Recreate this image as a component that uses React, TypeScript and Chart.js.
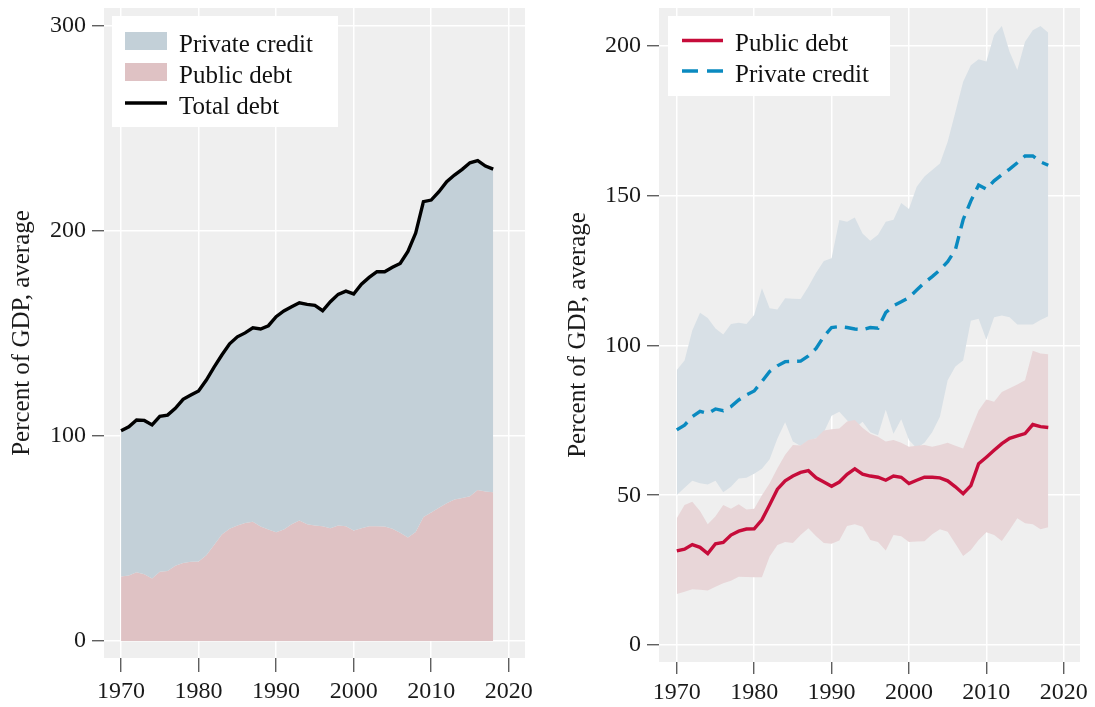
import { useEffect, useRef } from "react";
import { Chart, registerables } from "chart.js";

Chart.register(...registerables);

const years = [
  1970, 1971, 1972, 1973, 1974, 1975, 1976, 1977, 1978, 1979,
  1980, 1981, 1982, 1983, 1984, 1985, 1986, 1987, 1988, 1989,
  1990, 1991, 1992, 1993, 1994, 1995, 1996, 1997, 1998, 1999,
  2000, 2001, 2002, 2003, 2004, 2005, 2006, 2007, 2008, 2009,
  2010, 2011, 2012, 2013, 2014, 2015, 2016, 2017, 2018,
];

const totalDebt = [
  102.6, 104.5, 107.8, 107.6, 105.4, 109.6, 110.2, 113.5, 117.9, 120.0,
  122.0, 127.3, 133.6, 139.5, 145.0, 148.4, 150.3, 152.8, 152.2, 153.8,
  158.2, 161.0, 163.0, 165.0, 164.2, 163.7, 161.1, 165.5, 169.1, 170.7,
  169.3, 174.1, 177.4, 180.2, 180.1, 182.3, 184.2, 190.0, 199.0, 214.3,
  215.1, 219.2, 224.1, 227.3, 230.1, 233.3, 234.3, 231.7, 230.2,
];

const publicDebt = [
  31.4, 32.0, 33.5, 32.6, 30.5, 33.8, 34.2, 36.7, 38.0, 38.7,
  38.8, 41.8, 46.8, 52.0, 54.8, 56.4, 57.6, 58.2, 55.8, 54.4,
  53.0, 54.4, 57.0, 58.8, 57.0, 56.4, 56.0, 55.0, 56.4, 56.0,
  53.9, 55.0, 56.0, 56.0, 55.8, 54.8, 52.8, 50.5, 53.2, 60.5,
  62.7, 65.0, 67.2, 69.0, 69.8, 70.6, 73.6, 72.9, 72.6,
];

const privateCredit = [
  71.8, 73.4, 76.2, 78.0, 77.3, 78.8, 78.2, 79.6, 81.8, 83.5,
  84.8, 88.0, 91.3, 93.2, 94.6, 94.7, 94.8, 96.5, 99.0, 103.0,
  106.0, 106.3, 106.0, 105.5, 105.3, 106.0, 105.8, 111.0, 113.3, 114.6,
  116.0, 118.5, 121.0, 123.0, 125.2, 128.0, 132.0, 142.0, 148.3, 153.6,
  152.2, 155.0, 157.0, 158.9, 161.0, 163.3, 163.3, 161.3, 160.2,
];

const privateUpper = [
  91.8, 95.0, 105.0, 110.9, 109.2, 105.7, 103.7, 107.2, 107.6, 107.2,
  110.2, 119.1, 112.4, 112.0, 115.8, 115.6, 115.5, 119.6, 124.3, 128.2,
  129.1, 141.9, 141.3, 142.7, 137.4, 135.0, 137.0, 141.3, 142.0, 147.6,
  145.6, 153.0, 156.4, 158.6, 160.8, 168.0, 178.0, 188.1, 193.6, 195.6,
  194.8, 203.7, 206.7, 198.1, 192.0, 201.4, 205.3, 206.7, 204.4,
];

const privateLower = [
  50.1, 52.5, 54.8, 54.0, 53.6, 54.8, 51.0, 52.8, 55.6, 55.8,
  57.2, 58.8, 62.0, 68.9, 74.4, 67.9, 66.4, 68.3, 69.0, 71.0,
  76.5, 77.9, 75.0, 72.3, 74.5, 71.0, 70.0, 78.5, 70.5, 75.4,
  68.4, 65.7, 67.5, 71.0, 76.2, 88.4, 93.0, 95.0, 108.3, 108.9,
  101.9, 109.4, 110.0, 109.4, 107.0, 107.0, 107.0, 108.5, 109.8,
];

const publicUpper = [
  42.3, 46.7, 47.8, 44.7, 40.3, 43.0, 46.7, 45.5, 47.0, 45.2,
  45.5, 50.0, 54.0, 59.0, 63.5, 66.8, 66.6, 68.4, 69.0, 71.6,
  72.0, 72.3, 74.6, 75.1, 72.5, 70.5, 69.5, 67.9, 68.4, 67.5,
  66.2, 66.5, 66.8, 66.2, 66.8, 67.5, 66.5, 65.6, 72.0, 78.3,
  82.0, 81.2, 84.5, 85.7, 87.0, 88.4, 98.2, 97.3, 97.1,
];

const publicLower = [
  17.0, 17.8, 18.6, 18.4, 18.2, 19.4, 20.6, 21.4, 22.8, 22.7,
  22.6, 22.6, 29.5, 33.4, 34.4, 34.0, 36.7, 39.0, 36.3, 34.0,
  33.8, 34.9, 39.7, 40.3, 39.5, 35.0, 34.4, 31.5, 36.7, 36.3,
  34.4, 34.5, 34.6, 37.0, 38.6, 37.8, 33.8, 29.7, 31.7, 35.0,
  37.6, 36.7, 34.7, 38.4, 42.3, 40.6, 40.3, 38.6, 39.3,
];

const xTicks = [1970, 1980, 1990, 2000, 2010, 2020];
const leftYTicks = [0, 100, 200, 300];
const rightYTicks = [0, 50, 100, 150, 200];
const yTitle = "Percent of GDP, average";
const leftLegendLabels = ["Private credit", "Public debt", "Total debt"];
const rightLegendLabels = ["Public debt", "Private credit"];

const FONT = '"Liberation Serif", "Times New Roman", serif';
const FS = 24;
const LFS = 25;
const PANEL = "#efefef";
const C_PRIV_AREA = "#c3d0d8";
const C_PUB_AREA = "#dfc2c4";
const C_PRIV_BAND = "#d8e0e6";
const C_PUB_BAND = "#e8d6d8";
const C_RED = "#c60c3a";
const C_BLUE = "#0a8ac0";

const pts = (vals: number[]) => years.map((yr, i) => ({ x: yr, y: vals[i] }));

const panelBg = {
  id: "panelBg",
  beforeDraw(chart: any) {
    const { ctx, chartArea: a } = chart;
    ctx.save();
    ctx.fillStyle = PANEL;
    ctx.fillRect(a.left, a.top, a.right - a.left, a.bottom - a.top);
    ctx.restore();
  },
};

type LegendItem = { label: string; kind: "box" | "line" | "dash"; color: string; y: number };

function legendPlugin(box: { x: number; y: number; w: number; h: number }, keyX: number, keyW: number, textX: number, items: LegendItem[]) {
  return {
    id: "customLegend",
    afterDraw(chart: any) {
      const ctx = chart.ctx;
      ctx.save();
      ctx.fillStyle = "#ffffff";
      ctx.fillRect(box.x, box.y, box.w, box.h);
      for (const it of items) {
        if (it.kind === "box") {
          ctx.fillStyle = it.color;
          ctx.fillRect(keyX, it.y - 9, keyW, 18);
        } else {
          ctx.strokeStyle = it.color;
          ctx.lineWidth = 3.4;
          ctx.setLineDash(it.kind === "dash" ? [16, 9] : []);
          ctx.beginPath();
          ctx.moveTo(keyX, it.y);
          ctx.lineTo(keyX + keyW, it.y);
          ctx.stroke();
          ctx.setLineDash([]);
        }
        ctx.fillStyle = "#111";
        ctx.font = `${LFS}px ${FONT}`;
        ctx.textBaseline = "alphabetic";
        ctx.textAlign = "left";
        ctx.fillText(it.label, textX, it.y + 10.5);
      }
      ctx.restore();
    },
  };
}

function makeScales(o: {
  xmin: number; xmax: number; ymin: number; ymax: number; yTicks: number[];
  yWidth: number; xHeight: number; titlePad: number; xTickLen: number; xPad: number;
}) {
  return {
    x: {
      type: "linear" as const,
      min: o.xmin,
      max: o.xmax,
      afterBuildTicks: (s: any) => { s.ticks = xTicks.map((v) => ({ value: v })); },
      afterFit: (s: any) => {
        s.height = o.xHeight;
        s.paddingLeft = 0;
        s.paddingRight = 0;
        s.paddingTop = 0;
        s.paddingBottom = 0;
      },
      border: { display: false },
      grid: { color: "#ffffff", lineWidth: 1.5, tickColor: "#444", tickLength: o.xTickLen, tickWidth: 1.2 },
      ticks: {
        callback: (v: any) => String(v),
        font: { family: FONT, size: FS },
        color: "#1a1a1a",
        padding: o.xPad,
        maxRotation: 0,
        autoSkip: false,
      },
    },
    y: {
      type: "linear" as const,
      min: o.ymin,
      max: o.ymax,
      afterBuildTicks: (s: any) => { s.ticks = o.yTicks.map((v) => ({ value: v })); },
      afterFit: (s: any) => {
        s.width = o.yWidth;
        s.paddingLeft = 0;
        s.paddingRight = 0;
        s.paddingTop = 0;
        s.paddingBottom = 0;
      },
      border: { display: false },
      grid: { color: "#ffffff", lineWidth: 1.5, tickColor: "#444", tickLength: 12, tickWidth: 1.2 },
      ticks: {
        callback: (v: any) => String(v),
        font: { family: FONT, size: FS },
        color: "#1a1a1a",
        padding: 6,
        autoSkip: false,
      },
      title: {
        display: true,
        text: yTitle,
        font: { family: FONT, size: LFS },
        color: "#1a1a1a",
        padding: { top: o.titlePad, bottom: 0 },
      },
    },
  };
}

function LeftChart() {
  const ref = useRef<HTMLCanvasElement>(null);
  useEffect(() => {
    const chart = new Chart(ref.current!, {
      type: "line",
      data: {
        datasets: [
          {
            label: "Total debt",
            data: pts(totalDebt),
            borderColor: "#000",
            borderWidth: 3.4,
            backgroundColor: C_PRIV_AREA,
            fill: "+1",
            pointRadius: 0,
            tension: 0,
          },
          {
            label: "Public debt",
            data: pts(publicDebt),
            borderWidth: 0,
            borderColor: "rgba(0,0,0,0)",
            backgroundColor: C_PUB_AREA,
            fill: "origin",
            pointRadius: 0,
            tension: 0,
          },
        ],
      },
      options: {
        responsive: false,
        animation: false,
        devicePixelRatio: 1,
        layout: { padding: { left: 0, top: 8, right: 23, bottom: 0 } },
        plugins: { legend: { display: false }, tooltip: { enabled: false } },
        scales: makeScales({
          xmin: 1967.8, xmax: 2022.1, ymin: -8.3, ymax: 308.8, yTicks: leftYTicks,
          yWidth: 104, xHeight: 49, titlePad: 7, xTickLen: 14, xPad: 5,
        }) as any,
      },
      plugins: [
        panelBg,
        legendPlugin({ x: 112, y: 16, w: 226, h: 111 }, 125, 42, 179, [
          { label: leftLegendLabels[0], kind: "box", color: C_PRIV_AREA, y: 41 },
          { label: leftLegendLabels[1], kind: "box", color: C_PUB_AREA, y: 72 },
          { label: leftLegendLabels[2], kind: "line", color: "#000", y: 103 },
        ]),
      ],
    });
    return () => chart.destroy();
  }, []);
  return <canvas ref={ref} width={548} height={707} style={{ position: "absolute", left: 0, top: 0 }} />;
}

function RightChart() {
  const ref = useRef<HTMLCanvasElement>(null);
  useEffect(() => {
    const band = (vals: number[], color: string, fill: any) => ({
      data: pts(vals),
      borderWidth: 0,
      borderColor: "rgba(0,0,0,0)",
      backgroundColor: color,
      fill,
      pointRadius: 0,
      tension: 0,
    });
    const chart = new Chart(ref.current!, {
      type: "line",
      data: {
        datasets: [
          {
            label: "Public debt",
            data: pts(publicDebt),
            borderColor: C_RED,
            borderWidth: 3.4,
            fill: false,
            pointRadius: 0,
            tension: 0,
          },
          {
            label: "Private credit",
            data: pts(privateCredit),
            borderColor: C_BLUE,
            borderWidth: 3.4,
            borderDash: [13, 8],
            fill: false,
            pointRadius: 0,
            tension: 0,
          },
          { label: "pub hi", ...band(publicUpper, C_PUB_BAND, "+1") },
          { label: "pub lo", ...band(publicLower, C_PUB_BAND, false) },
          { label: "priv hi", ...band(privateUpper, C_PRIV_BAND, "+1") },
          { label: "priv lo", ...band(privateLower, C_PRIV_BAND, false) },
        ],
      },
      options: {
        responsive: false,
        animation: false,
        devicePixelRatio: 1,
        layout: { padding: { left: 0, top: 8, right: 15, bottom: 0 } },
        plugins: { legend: { display: false }, tooltip: { enabled: false } },
        scales: makeScales({
          xmin: 1967.7, xmax: 2022.1, ymin: -5.7, ymax: 212.7, yTicks: rightYTicks,
          yWidth: 111, xHeight: 45, titlePad: 15, xTickLen: 12, xPad: 4,
        }) as any,
      },
      plugins: [
        panelBg,
        legendPlugin({ x: 120, y: 16, w: 222, h: 80 }, 134, 41, 187, [
          { label: rightLegendLabels[0], kind: "line", color: C_RED, y: 40.5 },
          { label: rightLegendLabels[1], kind: "dash", color: C_BLUE, y: 71 },
        ]),
      ],
    });
    return () => chart.destroy();
  }, []);
  return <canvas ref={ref} width={547} height={707} style={{ position: "absolute", left: 548, top: 0 }} />;
}

export default function App() {
  return (
    <div style={{ position: "fixed", left: 0, top: 0, width: 1095, height: 707, background: "#ffffff" }}>
      <LeftChart />
      <RightChart />
    </div>
  );
}
